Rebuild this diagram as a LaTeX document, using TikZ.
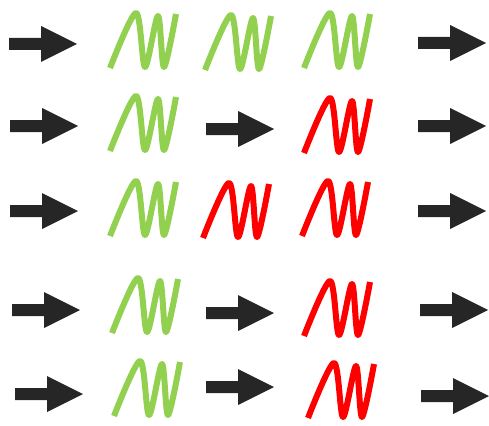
\documentclass[tikz,border=0pt]{standalone}
\usetikzlibrary{calc}
\definecolor{arrowfill}{HTML}{262626}
\definecolor{sgreen}{HTML}{92D050}
\definecolor{sred}{HTML}{FF0000}
\tikzset{
  arrowpic/.pic={\fill[arrowfill] (0,-6) -- (32,-6) -- (32,-18) -- (68,0) -- (32,18) -- (32,6) -- (0,6) -- cycle;},
  springpic/.pic={\draw[line width=6pt, line cap=butt, line join=round, pic actions]
     plot[smooth, tension=0.5] coordinates {(2,58) (28,3) (37,57) (50,6) (56,57) (68,4)};},
  gs/.style={draw=sgreen},
  rs/.style={draw=sred}
}
\begin{document}
\begin{tikzpicture}[x=1pt,y=-1pt]
\useasboundingbox (0,0) rectangle (489,425);
% row 1
\pic (a10) at (9,44) {arrowpic};
\pic[gs] (s11) at (108,10) {springpic};
\pic[gs] (s12) at (203,12) {springpic};
\pic[gs] (s13) at (302,10) {springpic};
\pic (a14) at (418,43) {arrowpic};
% row 2
\pic (a20) at (10,126) {arrowpic};
\pic[gs] (s21) at (108,93) {springpic};
\pic (a22) at (206,129) {arrowpic};
\pic[rs] (s23) at (302,95) {springpic};
\pic (a24) at (418,126) {arrowpic};
% row 3
\pic (a30) at (10,211) {arrowpic};
\pic[gs] (s31) at (108,178) {springpic};
\pic[rs] (s32) at (201,180) {springpic};
\pic[rs] (s33) at (300,178) {springpic};
\pic (a34) at (418,211) {arrowpic};
% row 4
\pic (a40) at (12,310) {arrowpic};
\pic[gs] (s41) at (110,275) {springpic};
\pic (a42) at (206,313) {arrowpic};
\pic[rs] (s43) at (302,278) {springpic};
\pic (a44) at (420,310) {arrowpic};
% row 5
\pic (a50) at (15,394) {arrowpic};
\pic[gs] (s51) at (112,358) {springpic};
\pic (a52) at (206,387) {arrowpic};
\pic[rs] (s53) at (306,360) {springpic};
\pic (a54) at (421,396) {arrowpic};
\end{tikzpicture}
\end{document}
